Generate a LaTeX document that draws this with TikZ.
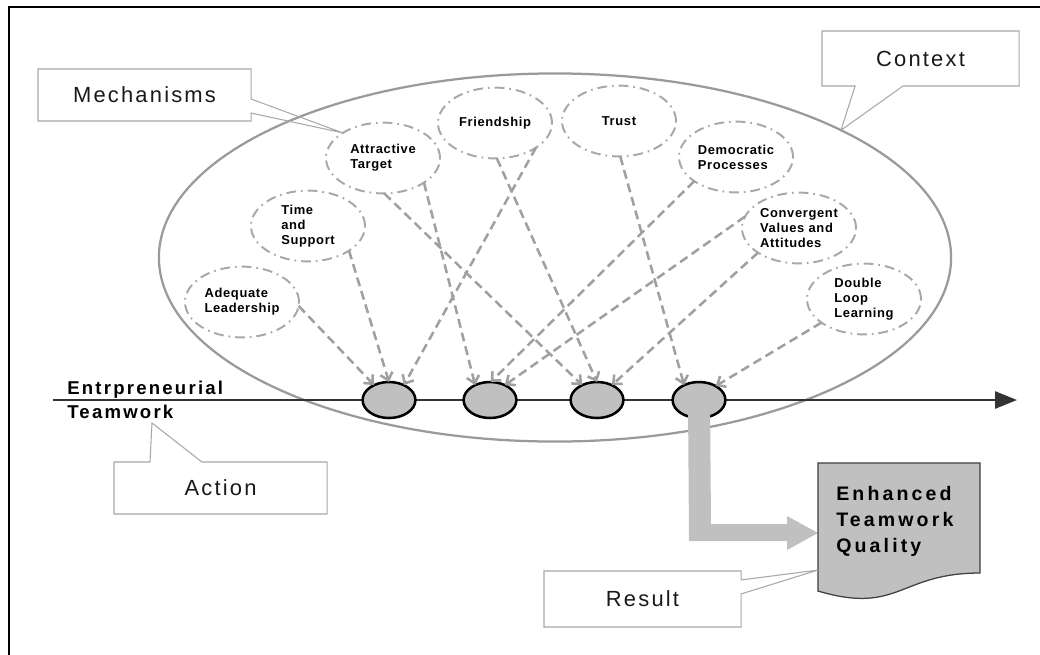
\documentclass[tikz,border=0pt]{standalone}
\usepackage{fontspec}
\setmainfont{Liberation Sans}
\newfontfamily\lblfont[LetterSpace=10]{Liberation Sans}
\newfontfamily\mechfont[LetterSpace=5]{Liberation Sans}
\newfontfamily\axisfont[LetterSpace=12]{Liberation Sans}
\newfontfamily\docfont[LetterSpace=16]{Liberation Sans}
\usetikzlibrary{shapes.geometric,arrows.meta,calc}

\definecolor{ctxgray}{HTML}{9A9A9A}
\definecolor{mechgray}{HTML}{A8A8A8}
\definecolor{flowgray}{HTML}{A0A0A0}
\definecolor{boxgray}{HTML}{A8A8A8}
\definecolor{stepfill}{HTML}{C0C0C0}
\definecolor{axisgray}{HTML}{333333}
\definecolor{docline}{HTML}{404040}

\begin{document}
\begin{tikzpicture}[x=0.025cm,y=-0.025cm,
  mech/.style={ellipse, draw=mechgray, line width=1.4pt,
    dash pattern=on 7pt off 3.5pt on 1.2pt off 3.5pt,
    minimum width=2.85cm, minimum height=1.77cm, inner sep=0pt, outer sep=0pt,
    align=left, font=\mechfont\fontsize{9.2pt}{10.7pt}\selectfont\bfseries},
  stepnode/.style={ellipse, draw=black, fill=stepfill, line width=1.8pt,
    minimum width=1.32cm, minimum height=0.9cm, inner sep=0pt, outer sep=0pt},
  flow/.style={draw=flowgray, line width=1.8pt, dash pattern=on 6.4pt off 3.6pt,
    -{Straight Barb[length=5pt,width=9pt]}},
  callout/.style={draw=boxgray, line width=0.75pt},
  lbl/.style={rectangle, inner sep=0pt, outer sep=0pt, text=black!90,
    font=\lblfont\fontsize{15.6pt}{18pt}\selectfont},
]
\useasboundingbox (0,0) rectangle (1040,654);

% outer frame
\draw[line width=1.4pt] (9,7) rectangle (1070,690);

% context ellipse
\node[ellipse, draw=ctxgray, line width=1.6pt, minimum width=19.8cm,
  minimum height=9.2cm, inner sep=0pt, outer sep=0pt] (ctx) at (555,257.5) {};

% time axis
\coordinate (axL) at (53,400);
\coordinate (axR) at (1017,400);
\draw[axisgray, line width=1.9pt, -{Triangle[length=15.5pt,width=12pt]}] (axL) -- (axR);

% mechanisms
\node[mech] (AT) at (383,158) {Attractive\\Target};
\node[mech] (FR) at (495,123) {Friendship};
\node[mech] (TR) at (619,121) {Trust};
\node[mech] (DP) at (736,157) {Democratic\\Processes};
\node[mech] (CV) at (799,228) {Convergent\\Values and\\Attitudes};
\node[mech] (DL) at (864,299) {Double\\Loop\\Learning};
\node[mech] (TS) at (308,226) {Time\\and\\Support};
\node[mech] (AL) at (242,302) {Adequate\\Leadership};

% teamwork episodes on the axis
\node[stepnode] (E1) at (389,400) {};
\node[stepnode] (E2) at (490,400) {};
\node[stepnode] (E3) at (597,400) {};
\node[stepnode] (E4) at (699,400) {};

% influences of the mechanisms
\draw[flow] (AL.-4)   -- (E1.135);
\draw[flow] (TS.-31)  -- (E1.90);
\draw[flow] (FR.-31)  -- (E1.45);
\draw[flow] (AT.-31)  -- (E2.135);
\draw[flow] (DP.-150) -- (E2.88);
\draw[flow] (CV.168)  -- (E2.45);
\draw[flow] (AT.-88)  -- (E3.135);
\draw[flow] (FR.-87)  -- (E3.90);
\draw[flow] (CV.-149) -- (E3.45);
\draw[flow] (TR.-88)  -- (E4.135);
\draw[flow] (DL.-151) -- (E4.40);

% axis label
\node[anchor=west, inner sep=0pt, align=left,
  font=\axisfont\fontsize{13.2pt}{17pt}\selectfont\bfseries] (ent) at (67,400)
  {Entrpreneurial\\Teamwork};
\coordinate (actTip) at (152,423);

% result document
\node[rectangle, minimum width=4.05cm, minimum height=2.75cm, inner sep=0pt,
  outer sep=0pt] (doc) at (899,518) {};
\coordinate (docIn) at ($(doc.north west)!0.636!(doc.south west)$);
\coordinate (resTip) at ($(doc.north west)!0.973!(doc.south west)$);

% outcome arrow
\fill[stepfill] ($(E4.center)+(-11,0)$) -- ($(E4.center)+(11,0)$) -- (711,524)
  -- (787,524) -- (787,516) -- (docIn) -- (787,550) -- (787,541) -- (689,541) -- cycle;

\filldraw[fill=stepfill, draw=docline, line width=0.9pt]
  (doc.north west) -- (doc.north east) -- (doc.south east)
  .. controls (doc.south) and ($(doc.south)+(0,42)$) .. ($(doc.south west)+(0,18)$)
  -- cycle;
\node[anchor=north west, inner sep=0pt, align=left,
  font=\docfont\fontsize{13.9pt}{18.5pt}\selectfont\bfseries] (qual) at (836,486.5)
  {Enhanced\\Teamwork\\Quality};

% callouts
\node[lbl, minimum width=5.325cm, minimum height=1.3cm] (mechlbl) at (144.5,95) {Mechanisms};
\draw[callout] (mechlbl.north west) -- (mechlbl.north east)
  -- ($(mechlbl.north east)!0.577!(mechlbl.south east)$) -- (AT.148)
  -- ($(mechlbl.north east)!0.846!(mechlbl.south east)$)
  -- (mechlbl.south east) -- (mechlbl.south west) -- cycle;

\node[lbl, minimum width=4.925cm, minimum height=1.375cm] (ctxlbl) at (920.5,58.5) {Context};
\draw[callout] (ctxlbl.north west) -- (ctxlbl.north east) -- (ctxlbl.south east)
  -- ($(ctxlbl.south west)!0.411!(ctxlbl.south east)$) -- (ctx.24.6)
  -- ($(ctxlbl.south west)!0.168!(ctxlbl.south east)$) -- (ctxlbl.south west) -- cycle;

\node[lbl, minimum width=5.325cm, minimum height=1.3cm] (actlbl) at (220.5,488) {Action};
\draw[callout] (actlbl.north west)
  -- ($(actlbl.north west)!0.169!(actlbl.north east)$) -- (actTip)
  -- ($(actlbl.north west)!0.413!(actlbl.north east)$)
  -- (actlbl.north east) -- (actlbl.south east) -- (actlbl.south west) -- cycle;

\node[lbl, minimum width=4.925cm, minimum height=1.4cm] (reslbl) at (642.5,599) {Result};
\draw[callout] (reslbl.north west) -- (reslbl.north east)
  -- ($(reslbl.north east)!0.16!(reslbl.south east)$) -- (resTip)
  -- ($(reslbl.north east)!0.41!(reslbl.south east)$)
  -- (reslbl.south east) -- (reslbl.south west) -- cycle;
\end{tikzpicture}
\end{document}
